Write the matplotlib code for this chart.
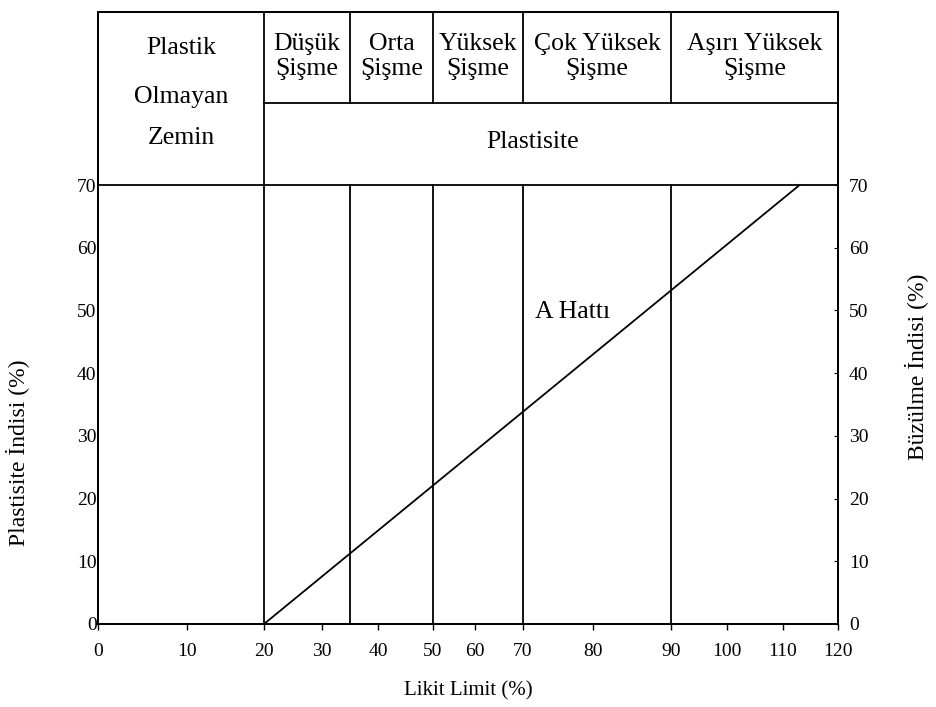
import numpy as np
import matplotlib
matplotlib.use('Agg')
import matplotlib.pyplot as plt

plt.rcParams['font.family'] = ['Liberation Serif', 'DejaVu Serif']

# x axis of the original is not linear: tick values and where they sit
x_ticks = [0, 10, 20, 30, 40, 50, 60, 70, 80, 90, 100, 110, 120]
x_pos = [98, 187, 264, 322, 378, 433, 475, 523, 593, 671, 727, 783, 838]
y_ticks = [0, 10, 20, 30, 40, 50, 60, 70]

# swelling class limits (liquid limit)
class_limits = [20, 35, 50, 70, 90, 120]
class_names = ['Düşük\nŞişme', 'Orta\nŞişme', 'Yüksek\nŞişme',
               'Çok Yüksek\nŞişme', 'Aşırı Yüksek\nŞişme']

# A line
a_line_x = [20, 113]
a_line_y = [0, 70]

y_top = 97.6
y_split = 83.1
y_max = 70


def fwd(v):
    return np.interp(v, x_ticks, x_pos)


def inv(p):
    return np.interp(p, x_pos, x_ticks)


fig = plt.figure(figsize=(9.36, 7.07), dpi=100)
ax = fig.add_axes([98 / 936, 83 / 707, 740 / 936, 612 / 707])
ax.set_xscale('function', functions=(fwd, inv))
ax.set_xlim(0, 120)
ax.set_ylim(0, y_top)

lw = 1.3
for s in ax.spines.values():
    s.set_linewidth(lw)

# chart lines
ax.plot(a_line_x, a_line_y, color='black', lw=lw)
ax.axhline(y_max, color='black', lw=lw)
for xl in class_limits[:-1]:
    top = y_top if xl == 20 else y_max
    ax.plot([xl, xl], [0, top], color='black', lw=lw)
    if xl > 20:
        ax.plot([xl, xl], [y_split, y_top], color='black', lw=lw)
ax.plot([20, 120], [y_split, y_split], color='black', lw=lw)

# header text
fs = 14
hfs = 18.5
for i, name in enumerate(class_names):
    xc = inv((fwd(class_limits[i]) + fwd(class_limits[i + 1])) / 2)
    ax.text(xc, (y_split + y_top) / 2 + 0.2, name, ha='center', va='center',
            fontsize=hfs, linespacing=1.2)
ax.text(inv(533), 76.9, 'Plastisite', ha='center', va='center', fontsize=hfs)
xc0 = inv(181)
ax.text(xc0, 91.8, 'Plastik', ha='center', va='center', fontsize=hfs)
ax.text(xc0, 84.0, 'Olmayan', ha='center', va='center', fontsize=hfs)
ax.text(xc0, 77.5, 'Zemin', ha='center', va='center', fontsize=hfs)
ax.text(inv(573), 49.8, 'A Hattı', ha='center', va='center', fontsize=hfs)

# axes
ax.set_xticks(x_ticks)
ax.set_xticklabels([str(v) for v in x_ticks], fontsize=fs)
ax.tick_params(axis='x', direction='out', length=4, width=1, pad=10)
ax.set_yticks(y_ticks)
ax.set_yticklabels([str(v) for v in y_ticks], fontsize=fs)
ax.tick_params(axis='y', direction='in', length=0, pad=1)
ax.set_xlabel('Likit Limit (%)', fontsize=15)
ax.xaxis.set_label_coords(0.5, -0.093)
ax.set_ylabel('Plastisite İndisi (%)', fontsize=17)
ax.yaxis.set_label_coords(-0.092, 0.28)

ax2 = ax.twinx()
ax2.set_ylim(0, y_top)
ax2.set_yticks(y_ticks)
ax2.set_yticklabels([str(v) for v in y_ticks], fontsize=fs)
ax2.tick_params(axis='y', direction='in', length=3, pad=8)
for s in ax2.spines.values():
    s.set_linewidth(lw)
ax2.set_ylabel('Büzülme İndisi (%)', fontsize=17)
ax2.yaxis.set_label_coords(1.09, 0.42)

fig.savefig('out.png', dpi=100)
